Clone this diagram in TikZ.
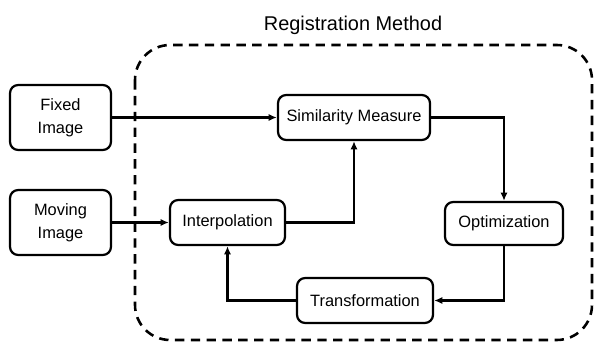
\documentclass[tikz,border=0pt]{standalone}
\usepackage{fontspec}
\setmainfont{Liberation Sans}
\usetikzlibrary{arrows.meta}

\begin{document}
\begin{tikzpicture}[x=0.03cm,y=-0.03cm,
  blok/.style={draw,line width=1.9pt,rounded corners=7pt,align=center,inner sep=0pt,
    font=\fontsize{14}{20}\selectfont},
  pijl/.style={line width=1.9pt,-{Latex[length=7pt,width=6pt]}}]
  \useasboundingbox (0,0) rectangle (595,347);
  \draw[line width=2.2pt,dash pattern=on 8pt off 5.5pt,rounded corners=30pt] (135,45) rectangle (592,340);
  \node[font=\fontsize{17}{20}\selectfont] (title) at (353,25) {Registration Method};

  \node[blok,minimum width=3.03cm,minimum height=1.95cm] (fixed) at (60.5,117.5) {Fixed\\Image};
  \node[blok,minimum width=3.03cm,minimum height=1.95cm] (moving) at (60.5,222.5) {Moving\\Image};
  \node[blok,minimum width=3.45cm,minimum height=1.35cm] (interp) at (227.5,222.5) {Interpolation};
  \node[blok,minimum width=4.56cm,minimum height=1.35cm] (sim) at (354,117.5) {Similarity Measure};
  \node[blok,minimum width=3.54cm,minimum height=1.29cm] (opt) at (504,223.5) {Optimization};
  \node[blok,minimum width=4.08cm,minimum height=1.35cm] (trans) at (365,300.5) {Transformation};

  \draw[pijl] (fixed.east) -- (sim.west);
  \draw[pijl] (moving.east) -- (interp.west);
  \draw[pijl] (interp.east) -| (sim.south);
  \draw[pijl] (sim.east) -| (opt.north);
  \draw[pijl] (opt.south) |- (trans.east);
  \draw[pijl] (trans.west) -| (interp.south);
\end{tikzpicture}
\end{document}
